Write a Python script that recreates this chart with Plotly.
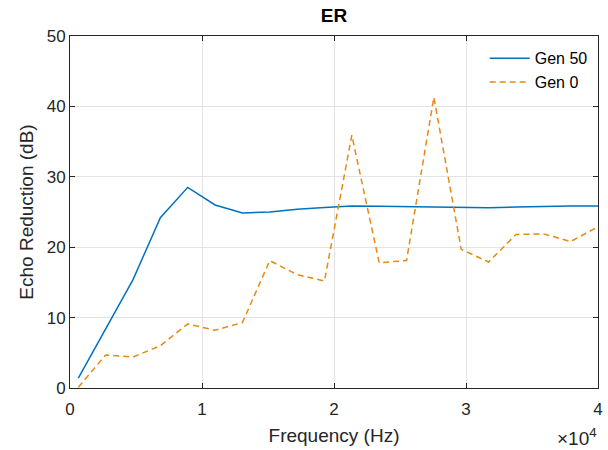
import plotly.graph_objects as go

freq = [630, 2702, 4774, 6846, 8918, 10990, 13062, 15134, 17206, 19278,
        21350, 23422, 25494, 27566, 29638, 31710, 33782, 35854, 37926, 39998]
gen50 = [1.4, 8.3, 15.4, 24.2, 28.5, 26.0, 24.85, 25.0, 25.4, 25.65,
         25.85, 25.8, 25.75, 25.6, 25.6, 25.6, 25.7, 25.8, 25.85, 25.85]
gen0 = [0.1, 4.7, 4.4, 6.0, 9.1, 8.2, 9.3, 18.1, 16.1, 15.2,
        35.9, 17.8, 18.1, 41.3, 19.7, 17.9, 21.8, 21.9, 20.8, 22.9]

xtick_vals = [0, 10000, 20000, 30000, 40000]
xtick_text = ["0", "1", "2", "3", "4"]
ytick_vals = [0, 10, 20, 30, 40, 50]

axis_color = "#262626"
font_family = "Liberation Sans, Arial, sans-serif"

fig = go.Figure()
fig.add_trace(go.Scatter(x=freq, y=gen50, mode="lines", name="Gen 50",
                         line=dict(color="#0072BD", width=1.5)))
fig.add_trace(go.Scatter(x=freq, y=gen0, mode="lines", name="Gen 0",
                         line=dict(color="#E58A12", width=1.5, dash="6px,4px")))

axis_common = dict(showline=True, linecolor=axis_color, linewidth=1, mirror="ticks",
                   ticks="inside", ticklen=5, tickcolor=axis_color,
                   showgrid=True, gridcolor="#E3E3E3", gridwidth=1, automargin=False,
                   zeroline=False, tickfont=dict(size=17, color=axis_color, family=font_family))

fig.update_xaxes(range=[0, 40000], tickvals=xtick_vals, ticktext=xtick_text,
                 ticklabelstandoff=6,
                 title=dict(text="Frequency (Hz)", font=dict(size=19, color=axis_color, family=font_family),
                            standoff=10),
                 **axis_common)
fig.update_yaxes(range=[0, 50], tickvals=ytick_vals,
                 title=dict(text="Echo Reduction (dB)", font=dict(size=19, color=axis_color, family=font_family),
                            standoff=8),
                 **axis_common)

fig.add_annotation(x=1.0, y=-0.103, xref="paper", yref="paper", xanchor="right", yanchor="top",
                   text="×10<sup>4</sup>", showarrow=False, borderpad=0,
                   font=dict(size=19, color=axis_color, family=font_family))

fig.update_layout(
    width=608, height=450,
    margin=dict(l=70, r=10, t=36, b=62),
    paper_bgcolor="white", plot_bgcolor="white",
    title=dict(text="<b>ER</b>", x=0.5, xref="paper", xanchor="center",
               y=0.98, yref="container", yanchor="top",
               font=dict(size=19, color="black", family=font_family)),
    legend=dict(x=0.99, y=0.985, xanchor="right", yanchor="top",
                bgcolor="rgba(255,255,255,1)", borderwidth=0,
                font=dict(size=16, color="black", family=font_family),
                itemwidth=40, tracegroupgap=0),
    showlegend=True,
)

fig.write_html("out.html")
